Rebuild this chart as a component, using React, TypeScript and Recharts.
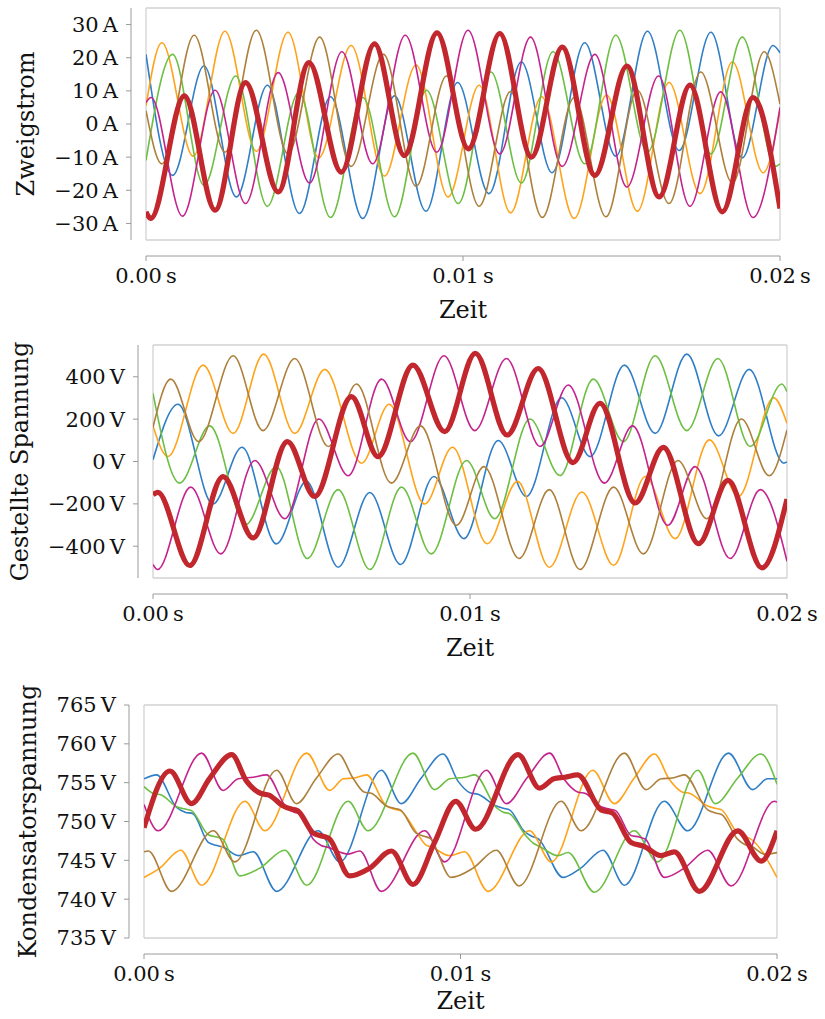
import { LineChart, Line, XAxis, YAxis, CartesianGrid } from "recharts";

type Pt = [number, number];

// time in ms (peaks, troughs, shoulders)
const timeTicks = [0, 10, 20];
const gridTimes = [0, 2.5, 5, 7.5, 10, 12.5, 15, 17.5, 20];

const currentTicks = [-30, -20, -10, 0, 10, 20, 30];
const currentGrid = [-35, -30, -20, -10, 0, 10, 20, 30, 35];
const voltTicks = [-400, -200, 0, 200, 400];
const voltGrid = [-550, -400, -200, 0, 200, 400, 550];
const capTicks = [735, 740, 745, 750, 755, 760, 765];

// Zweigstrom (A)
const i_blue: Pt[] = [[0,21],[0.84,-15.5],[1.83,17.5],[2.85,-22],[3.83,11.7],[4.84,-27],[5.82,8.2],[6.84,-28.5],[7.84,8.5],[8.83,-26.3],[9.83,12.5],[10.82,-21],[11.84,18.7],[12.81,-14.7],[13.84,24.5],[14.82,-9.7],[15.82,28],[16.82,-8],[17.82,27.7],[18.81,-10.2],[19.78,23.7],[20,21.5]];
const i_orange: Pt[] = [[0,5.5],[0.5,24.5],[1.49,-9.7],[2.49,28],[3.48,-8.2],[4.48,27.7],[5.45,-10.2],[6.47,23.7],[7.52,-15.7],[8.52,17.8],[9.53,-22],[10.51,11.7],[11.5,-26.8],[12.48,8.2],[13.51,-28.5],[14.53,8.7],[15.5,-26.3],[16.5,12.5],[17.48,-21],[18.5,18.7],[19.47,-14.7],[20,4]];
const i_green: Pt[] = [[0,-11],[0.84,21],[1.83,-18.5],[2.83,14.5],[3.83,-24.8],[4.82,9.5],[5.82,-28.2],[6.84,8],[7.84,-28],[8.85,10.2],[9.85,-24],[10.88,15.7],[11.84,-17.8],[12.84,21.8],[13.84,-12],[14.82,26.8],[15.82,-8.5],[16.84,28.3],[17.82,-9],[18.81,26.2],[19.86,-12.8],[20,-12]];
const i_magenta: Pt[] = [[0,6.5],[0.16,8],[1.15,-27.8],[2.18,10.2],[3.14,-24],[4.17,15.5],[5.16,-17.8],[6.18,21.8],[7.15,-12],[8.18,26.8],[9.17,-8.5],[10.16,28.3],[11.16,-9],[12.13,26.2],[13.13,-12.8],[14.16,21],[15.17,-19],[16.17,14.5],[17.16,-24.8],[18.13,9.7],[19.15,-28.2],[20,5]];
const i_brown: Pt[] = [[0,4],[0.5,-12],[1.52,26.8],[2.49,-8.5],[3.48,28.3],[4.48,-9],[5.48,26.2],[6.47,-12.8],[7.49,21],[8.52,-18.8],[9.48,14.5],[10.51,-24.8],[11.5,9.8],[12.5,-28.2],[13.51,8],[14.51,-28],[15.5,10.2],[16.5,-24],[17.5,15.7],[18.5,-17.8],[19.5,21.8],[20,6]];
const i_red: Pt[] = [[0,-26.5],[0.15,-28.5],[1.21,8.5],[2.18,-26],[3.14,12.5],[4.17,-20.5],[5.14,18.5],[6.16,-14.5],[7.21,24.2],[8.15,-9.5],[9.18,27.5],[10.17,-7.5],[11.16,27.3],[12.16,-10],[13.13,23.2],[14.16,-15.5],[15.17,17.5],[16.19,-22],[17.16,11.7],[18.18,-26.5],[19.15,8],[20,-25.5]];

// Gestellte Spannung (V)
const u_blue: Pt[] = [[0,8],[0.79,270],[1.89,-201],[2.81,67],[3.89,-389],[4.84,-94],[5.84,-499],[6.84,-146],[7.81,-486],[8.86,-71],[9.81,-364],[10.89,99],[11.78,-165],[12.89,301],[13.79,23],[14.87,455],[15.84,133],[16.84,507],[17.84,121],[18.81,435],[19.9,-8],[20,-2]];
const u_orange: Pt[] = [[0,168],[0.47,23],[1.58,455],[2.53,133],[3.49,507],[4.47,133],[5.42,435],[6.58,-8],[7.45,270],[8.57,-201],[9.45,67],[10.54,-388],[11.5,-94],[12.5,-499],[13.53,-144],[14.53,-490],[15.53,-71],[16.47,-364],[17.55,102],[18.47,-165],[19.58,301],[20,180]];
const u_green: Pt[] = [[0,322],[0.84,-102],[1.79,168],[2.92,-298],[3.89,-24],[4.87,-458],[5.84,-133],[6.84,-510],[7.84,-121],[8.78,-436],[9.89,5],[10.78,-270],[11.89,201],[12.84,-66],[13.89,389],[14.84,94],[15.84,499],[16.84,146],[17.82,486],[18.84,71],[19.84,366],[20,330]];
const u_magenta: Pt[] = [[0,-486],[0.14,-510],[1.19,-121],[2.14,-436],[3.21,5],[4.16,-270],[5.23,201],[6.16,-67],[7.21,389],[8.12,94],[9.18,499],[10.15,146],[11.15,486],[12.21,71],[13.1,361],[14.24,-102],[15.13,168],[16.24,-301],[17.1,-24],[18.21,-458],[19.16,-133],[20,-471]];
const u_brown: Pt[] = [[0,162],[0.56,389],[1.44,94],[2.53,499],[3.47,146],[4.47,486],[5.53,71],[6.42,366],[7.52,-102],[8.44,168],[9.57,-301],[10.44,-24],[11.55,-458],[12.5,-133],[13.47,-510],[14.53,-121],[15.47,-436],[16.56,5],[17.47,-270],[18.56,201],[19.44,-67],[20,149]];
const u_red: Pt[] = [[0,-157],[0.15,-146],[1.16,-491],[2.21,-71],[3.16,-361],[4.24,94],[5.1,-165],[6.26,306],[7.1,23],[8.2,455],[9.2,141],[10.17,510],[11.17,125],[12.15,439],[13.25,-5],[14.1,275],[15.21,-196],[16.1,67],[17.21,-388],[18.14,-89],[19.21,-502],[20,-177]];

// Kondensatorspannung (V)
const c_blue: Pt[] = [[0,755.5],[0.4,756],[1.03,751.8],[1.3,751.2],[1.55,751],[2.03,747.3],[2.3,746.9],[2.5,746.7],[2.98,745.6],[3.45,746.1],[4.19,741],[5.5,748.8],[6.19,744.8],[7.5,756.6],[8.13,752.3],[8.76,755.6],[9.45,758.7],[9.92,755.2],[10.3,753.7],[10.55,753.5],[11.13,752],[11.35,751.7],[11.55,751.5],[12,748.8],[12.25,748.1],[12.45,747.8],[13.24,742.8],[13.8,744],[14.5,746.3],[15.18,741.8],[16.44,752.6],[17.18,748.8],[18.47,758.8],[19.23,754.1],[19.7,755.5],[20,755.5]];
const c_orange: Pt[] = [[0,742.8],[0.5,744],[1.16,746.3],[1.82,741.8],[3.19,752.6],[3.82,748.8],[5.14,758.8],[5.87,754],[6.3,755.5],[6.65,755.6],[7.03,756],[7.66,752],[7.9,751.6],[8.1,751.4],[8.66,748.3],[8.9,747],[9.1,746.7],[9.66,745.6],[10.13,746.1],[10.87,741],[12.18,748.8],[12.87,744.8],[14.18,756.6],[14.86,752.3],[15.49,755.6],[16.13,758.7],[16.6,755.4],[17,753.8],[17.25,753.6],[17.81,752],[18.05,751.7],[18.25,751.5],[18.7,748.8],[18.95,748.1],[19.15,747.8],[20,742.8]];
const c_green: Pt[] = [[0,754.5],[0.3,753.6],[0.55,753.4],[1.03,751.9],[1.3,751.6],[1.5,751.4],[2.03,748.3],[2.3,748],[2.5,747.7],[3.03,743],[3.66,744],[4.45,746.3],[5.14,741.8],[6.45,752.6],[7.08,748.8],[8.5,758.8],[9.18,754.1],[9.66,755.5],[10.13,755.7],[10.45,756],[11.13,751.8],[11.35,751.2],[11.55,751],[12.08,748.1],[12.3,747.2],[12.5,746.8],[13.08,745.6],[13.4,746],[14.23,740.9],[15.49,748.8],[16.23,744.8],[17.5,756.6],[18.05,752.3],[18.76,755.6],[19.49,758.7],[20,754.8]];
const c_magenta: Pt[] = [[0,752.2],[0.45,748.8],[1.82,758.8],[2.5,754],[2.98,755.5],[3.45,755.7],[3.87,756],[4.5,751.8],[4.75,751.2],[4.95,751],[5.35,747.7],[5.6,746.9],[5.8,746.7],[6.45,745.8],[6.82,746.2],[7.5,741],[8.87,748.8],[9.5,744.8],[10.82,756.6],[11.45,752.3],[12.1,755.6],[12.82,758.8],[13.28,755.4],[13.7,753.8],[13.95,753.6],[14.44,751.9],[14.7,751.6],[14.9,751.4],[15.39,748.2],[15.65,748],[15.85,747.7],[16.44,742.8],[17.07,744],[17.81,746.3],[18.55,741.7],[19.92,752.6],[20,752.5]];
const c_brown: Pt[] = [[0,746.1],[0.14,746.2],[0.87,741],[2.19,748.8],[2.87,744.8],[4.19,756.6],[4.82,752.3],[5.45,755.6],[6.14,758.7],[6.6,755.6],[6.95,753.8],[7.2,753.6],[7.66,752],[7.9,751.7],[8.1,751.5],[8.6,748.5],[8.85,748.1],[9.05,747.8],[9.7,742.8],[10.4,744],[11.13,746.3],[11.85,741.7],[13.18,752.6],[13.81,748.8],[15.18,758.8],[15.86,754.1],[16.34,755.5],[16.7,755.6],[17.07,756],[17.81,751.5],[18.05,751.1],[18.25,750.9],[18.76,747.7],[19,747],[19.2,746.8],[19.6,745.8],[20,746]];
const c_red: Pt[] = [[0,749.2],[0.82,756.5],[1.5,752.3],[2.08,755.6],[2.77,758.6],[3.24,755.2],[3.7,753.6],[3.95,753.4],[4.4,752],[4.65,751.6],[4.85,751.4],[5.35,748.5],[5.65,748.1],[5.85,747.8],[6.5,743],[7.13,744],[7.82,746.2],[8.5,741.9],[9.18,747.3],[9.85,752.6],[10.48,749],[11.82,758.6],[12.5,754.3],[12.95,755.5],[13.3,755.7],[13.7,756],[14.44,751.5],[14.8,751.1],[15.39,747.3],[15.8,746.8],[16.34,745.6],[16.76,746.1],[17.55,741],[18.76,748.8],[19.5,744.9],[20,748.8]];

const colors = {
  blue: "#2f7ec6",
  orange: "#ffa31a",
  green: "#6dbf43",
  magenta: "#c4228d",
  brown: "#ad7f3b",
  red: "#c1272d",
};

const FONT = "DejaVu Serif";
const AXIS = "#9a9a9a";

const minus = (v: number) => (v < 0 ? "\u2212" + Math.abs(v) : String(v));

interface PanelProps {
  top: number;
  plotTop: number;
  plotLeft: number;
  plotRight: number;
  plotHeight: number;
  axisH: number;
  labelOffset: number;
  yLabel: string;
  yLabelX: number;
  domain: [number, number];
  ticks: number[];
  grid: number[];
  unit: string;
  series: { pts: Pt[]; color: string; width: number }[];
}

function Panel({ top, plotTop, plotLeft, plotRight, plotHeight, axisH, labelOffset, yLabel, yLabelX, domain, ticks, grid, unit, series }: PanelProps) {
  const spacerW = 15;
  const spacerH = 16;
  const height = plotTop + plotHeight + spacerH + axisH;
  const tickStyle = { fontSize: 21, fontFamily: FONT, fill: "#111" };
  const titleStyle = { fontSize: 24, fontFamily: FONT, fill: "#111", textAnchor: "middle" as const };

  return (
    <div style={{ position: "absolute", left: 0, top }}>
      <LineChart width={825} height={height} margin={{ top: plotTop, right: 825 - plotRight, bottom: 0, left: 0 }}>
        <XAxis xAxisId="g" type="number" dataKey="t" domain={[0, 20]} ticks={gridTimes} allowDataOverflow height={spacerH} tick={false} tickLine={false} axisLine={false} />
        <XAxis
          xAxisId="t"
          type="number"
          dataKey="t"
          domain={[0, 20]}
          ticks={timeTicks}
          allowDataOverflow
          height={axisH}
          tickSize={5}
          tickMargin={7}
          tick={tickStyle}
          tickLine={{ stroke: AXIS }}
          axisLine={{ stroke: AXIS }}
          tickFormatter={(v: number) => (v / 1000).toFixed(2) + "\u2009s"}
          label={{ value: "Zeit", position: "insideBottom", offset: labelOffset, style: titleStyle }}
        />
        <YAxis yAxisId="g" type="number" domain={domain} ticks={grid} allowDataOverflow width={spacerW} tick={false} tickLine={false} axisLine={false} />
        <YAxis
          yAxisId="v"
          type="number"
          domain={domain}
          ticks={ticks}
          allowDataOverflow
          width={plotLeft - spacerW}
          tickSize={5}
          tickMargin={8}
          tick={tickStyle}
          tickLine={{ stroke: AXIS }}
          axisLine={{ stroke: AXIS }}
          tickFormatter={(v: number) => minus(v) + "\u2009" + unit}
          label={{ value: yLabel, angle: -90, position: "insideLeft", offset: yLabelX, style: titleStyle }}
        />
        <CartesianGrid xAxisId="g" yAxisId="g" stroke="#d2d2d2" strokeWidth={1.3} />
        {series.map((s, idx) => (
          <Line
            key={idx}
            xAxisId="t"
            yAxisId="v"
            data={s.pts.map(([t, v]) => ({ t, v }))}
            dataKey="v"
            type="monotone"
            stroke={s.color}
            strokeWidth={s.width}
            dot={false}
            activeDot={false}
            isAnimationActive={false}
          />
        ))}
      </LineChart>
    </div>
  );
}

const thin = 1.6;
const thick = 5.2;

export default function App() {
  return (
    <div style={{ position: "absolute", left: 0, top: 0, width: 825, height: 1019, overflow: "hidden", background: "#fff" }}>
      <Panel
        top={0}
        plotTop={8}
        plotLeft={146}
        plotRight={780}
        plotHeight={232}
        axisH={68}
        labelOffset={6}
        yLabel="Zweigstrom"
        yLabelX={25}
        domain={[-35, 35]}
        ticks={currentTicks}
        grid={currentGrid}
        unit="A"
        series={[
          { pts: i_blue, color: colors.blue, width: thin },
          { pts: i_orange, color: colors.orange, width: thin },
          { pts: i_green, color: colors.green, width: thin },
          { pts: i_magenta, color: colors.magenta, width: thin },
          { pts: i_brown, color: colors.brown, width: thin },
          { pts: i_red, color: colors.red, width: thick },
        ]}
      />
      <Panel
        top={320}
        plotTop={25}
        plotLeft={153}
        plotRight={787}
        plotHeight={233}
        axisH={68}
        labelOffset={6}
        yLabel="Gestellte Spannung"
        yLabelX={19}
        domain={[-550, 550]}
        ticks={voltTicks}
        grid={voltGrid}
        unit="V"
        series={[
          { pts: u_blue, color: colors.blue, width: thin },
          { pts: u_orange, color: colors.orange, width: thin },
          { pts: u_green, color: colors.green, width: thin },
          { pts: u_magenta, color: colors.magenta, width: thin },
          { pts: u_brown, color: colors.brown, width: thin },
          { pts: u_red, color: colors.red, width: thick },
        ]}
      />
      <Panel
        top={665}
        plotTop={40}
        plotLeft={144}
        plotRight={777}
        plotHeight={233}
        axisH={64}
        labelOffset={9}
        yLabel="Kondensatorspannung"
        yLabelX={27}
        domain={[735, 765]}
        ticks={capTicks}
        grid={capTicks}
        unit="V"
        series={[
          { pts: c_blue, color: colors.blue, width: thin },
          { pts: c_orange, color: colors.orange, width: thin },
          { pts: c_green, color: colors.green, width: thin },
          { pts: c_magenta, color: colors.magenta, width: thin },
          { pts: c_brown, color: colors.brown, width: thin },
          { pts: c_red, color: colors.red, width: thick },
        ]}
      />
    </div>
  );
}
